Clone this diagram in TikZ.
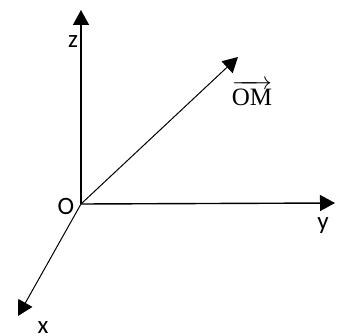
\documentclass[tikz,border=0pt]{standalone}
\usepackage{amsmath}
\usepackage{fontspec}
\setsansfont{Carlito}
\setmainfont{Liberation Serif}
\usepackage{tikz}
\usetikzlibrary{arrows.meta}
\begin{document}
\begin{tikzpicture}[
  x=1pt, y=-1pt,
  font=\sffamily\fontsize{25}{27}\selectfont,
  axis/.style={-{Triangle[length=15pt, width=16pt]}, line width=1.4pt, draw=black},
  vec/.style={axis, line width=1pt},
  lbl/.style={inner sep=0pt, anchor=base}
]
\useasboundingbox (0,0) rectangle (336,336);
\coordinate (O) at (81,204);
\coordinate (zend) at (81,10);
\coordinate (yend) at (335,203);
\coordinate (xend) at (18,316);
\coordinate (Mend) at (238,57);

\node[lbl] (olabel) at (66,214) {O};
\node[lbl] (zlabel) at (73,48) {z};
\node[lbl] (ylabel) at (323,229) {y};
\node[lbl] (xlabel) at (43,333) {x};
\node[lbl, font=\rmfamily\fontsize{25}{27}\selectfont] (omlabel) at (252,106) {$\overrightarrow{\text{OM}}$};

\draw[axis] (O) -- (zend);
\draw[axis] (O) -- (yend);
\draw[vec] (O) -- (xend);
\draw[vec] (O) -- (Mend);
\end{tikzpicture}
\end{document}
